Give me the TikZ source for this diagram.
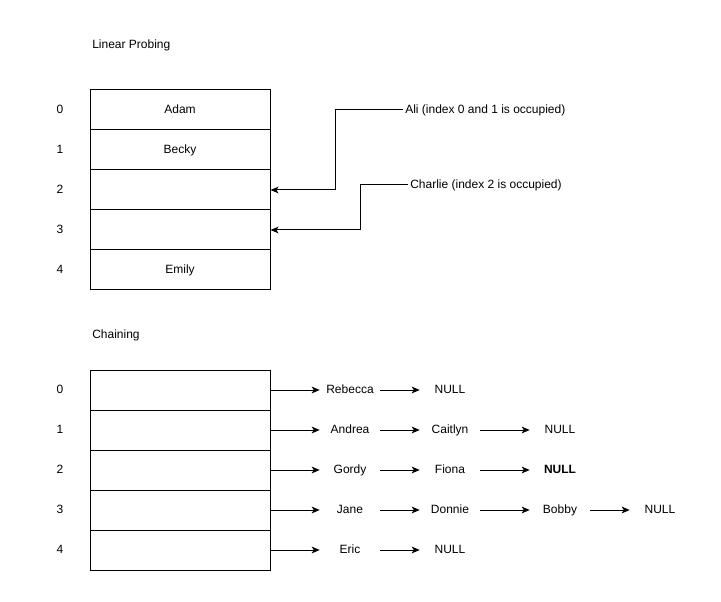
\documentclass[tikz,border=0pt]{standalone}
\usepackage{fontspec}
\setmainfont{Liberation Sans}
\usetikzlibrary{arrows.meta}
\begin{document}
\begin{tikzpicture}[x=0.75pt,y=-0.75pt,
  lbl/.style={font=\fontsize{9}{11}\selectfont, inner sep=1.5pt, text height=6.5pt, text depth=1.9pt},
  cell/.style={draw, line width=0.75pt, minimum width=135pt, minimum height=30pt,
    inner sep=0pt, font=\fontsize{9}{11}\selectfont, text height=6.5pt, text depth=1.9pt},
  item/.style={lbl, minimum width=45pt, minimum height=15pt, inner sep=0pt},
  link/.style={line width=0.75pt, -{Stealth[length=6pt,width=5pt,inset=1.5pt]}},
  wire/.style={line width=0.75pt, -{Stealth[length=6pt,width=5pt,inset=1.5pt]}}]
\useasboundingbox (0,0) rectangle (721,602);

% ---- Linear probing table ----
\node[lbl, anchor=west] (lpt) at (90,45) {Linear Probing};
\foreach \i/\txt in {0/Adam,1/Becky,2/,3/,4/Emily}{
  \node[cell] (a\i) at (180,110+40*\i) {\txt};
  \node[lbl] (ai\i) at (60,110+40*\i) {\i};
}
\node[lbl, anchor=west] (ali) at (403,110) {Ali (index 0 and 1 is occupied)};
\node[lbl, anchor=west] (charlie) at (408,185) {Charlie (index 2 is occupied)};
\draw[wire] (ali.west) -- ++(-68,0) |- (a2.east);
\draw[wire] (charlie.west) -- ++(-48,0) |- (a3.east);

% ---- Chaining table ----
\node[lbl, anchor=west] (cht) at (90,335) {Chaining};
\foreach \i in {0,...,4}{
  \node[cell] (c\i) at (180,390+40*\i) {};
  \node[lbl] (ci\i) at (60,390+40*\i) {\i};
}

% chains
\node[item] (n00) at (350,390) {Rebecca};
\node[item] (n01) at (450,390) {NULL};

\node[item] (n10) at (350,430) {Andrea};
\node[item] (n11) at (450,430) {Caitlyn};
\node[item] (n12) at (560,430) {NULL};

\node[item] (n20) at (350,470) {Gordy};
\node[item] (n21) at (450,470) {Fiona};
\node[item, font=\fontsize{9}{11}\selectfont\bfseries] (n22) at (560,470) {NULL};

\node[item] (n30) at (350,510) {Jane};
\node[item] (n31) at (450,510) {Donnie};
\node[item] (n32) at (560,510) {Bobby};
\node[item] (n33) at (660,510) {NULL};

\node[item] (n40) at (350,550) {Eric};
\node[item] (n41) at (450,550) {NULL};

\foreach \i in {0,...,4} \draw[link] (c\i.east) -- (n\i0.west);
\draw[link] (n00) -- (n01);
\draw[link] (n10) -- (n11);
\draw[link] (n11) -- (n12);
\draw[link] (n20) -- (n21);
\draw[link] (n21) -- (n22);
\draw[link] (n30) -- (n31);
\draw[link] (n31) -- (n32);
\draw[link] (n32) -- (n33);
\draw[link] (n40) -- (n41);
\end{tikzpicture}
\end{document}
